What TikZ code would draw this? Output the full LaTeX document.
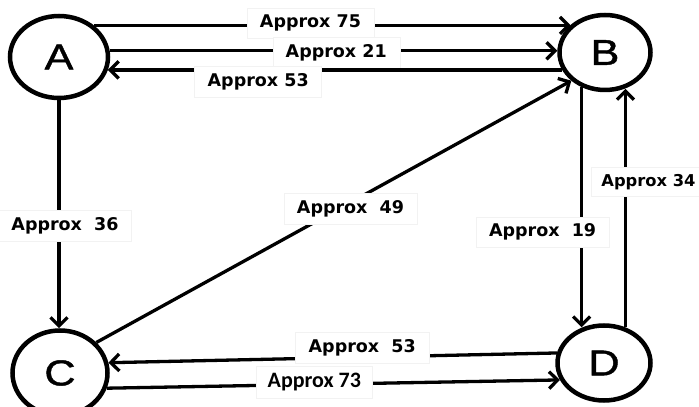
\documentclass[tikz,border=0pt]{standalone}
\usepackage{fontspec}
\usetikzlibrary{shapes.geometric,arrows.meta}
\newfontfamily\letterfont[FakeStretch=1.2,FakeBold=1.2]{Liberation Sans}
\newfontfamily\labelfont{DejaVu Sans}
\newfontfamily\narrowfont{Carlito}
\begin{document}
\begin{tikzpicture}[x=1pt,y=1pt,
  state/.style={ellipse,draw,line width=4.5pt,inner sep=0pt,
    font=\letterfont\fontsize{36}{36}\selectfont},
  arr/.style={line width=3.3pt,-{Straight Barb[length=8.5pt,width=17pt,line width=3.3pt]}},
  lbl/.style={fill=white,draw=black!5,line width=0.4pt,inner xsep=13pt,inner ysep=7pt,
    font=\labelfont\bfseries\fontsize{17.5}{17.5}\selectfont},
  lblb/.style={lbl,inner xsep=11pt,font=\narrowfont\bfseries\fontsize{22}{22}\selectfont}]
\useasboundingbox (0,0) rectangle (699,407);

% the four states
\node[state,minimum width=98pt,minimum height=82pt] (A) at (59,350) {A};
\node[state,minimum width=91pt,minimum height=75pt] (B) at (605,354.5) {B};
\node[state,minimum width=95pt,minimum height=85pt] (C) at (60,34) {C};
\node[state,minimum width=93pt,minimum height=75pt] (D) at (604,44) {D};

% A <-> B
\draw[arr] (A.42.5) -- (A.42.5 -| B.141.8)
  node[lbl,pos=0.454,yshift=2.5pt] (l75) {Approx 75};
\draw[arr] (A.7.8) -- (A.7.8 -| B.177)
  node[lbl,pos=0.506,yshift=-2pt] (l21) {Approx 21};
\draw[arr] (B.202.1) -- (B.202.1 -| A.345.2)
  node[lbl,pos=0.669,yshift=-12pt] (l53a) {Approx 53};

% A -> C
\draw[arr] (A.south) -- (A.south |- C.north)
  node[lbl,pos=0.549,xshift=6pt] (l36) {Approx~~36};

% C -> B
\draw[arr] (C.40) -- (B.220.5)
  node[lbl,pos=0.535,yshift=-6.5pt] (l49) {Approx~~49};

% B <-> D
\draw[arr] (B.236.8) -- (B.236.8 |- D.121.6)
  node[lbl,pos=0.604,xshift=-39pt] (l19) {Approx~~19};
\draw[arr] (D.59.8) -- (D.59.8 |- B.298.8)
  node[lbl,pos=0.61,xshift=23pt,inner xsep=10pt,
       font=\labelfont\bfseries\fontsize{16.3}{16.3}\selectfont] (l34) {Approx 34};

% C <-> D
\draw[arr] (D.168.5) -- (C.12.4)
  node[lbl,pos=0.434,yshift=9.4pt] (l53b) {Approx~~53};
\draw[arr] (C.342.3) -- (D.201.2)
  node[lblb,pos=0.458,yshift=2pt] (l73) {Approx 73};
\end{tikzpicture}
\end{document}
